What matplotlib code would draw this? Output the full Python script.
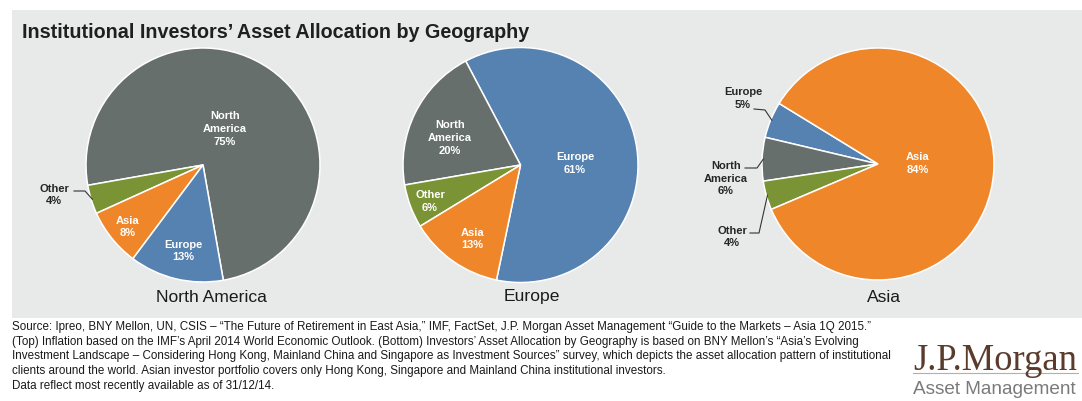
import matplotlib
matplotlib.use("Agg")
import matplotlib.pyplot as plt
from matplotlib.patches import Rectangle
import numpy as np

W, H = 1082, 401

# ---------------- data ----------------
title = "Institutional Investors\u2019 Asset Allocation by Geography"
chart_titles = ["North America", "Europe", "Asia"]

# slices listed counterclockwise for each chart
na_regions = ["North America", "Other", "Asia", "Europe"]
na_values = [75, 4, 8, 13]
eu_regions = ["Europe", "North America", "Other", "Asia"]
eu_values = [61, 20, 6, 13]
as_regions = ["Europe", "North America", "Other", "Asia"]
as_values = [5, 6, 4, 84]

footer_lines = [
    "Source: Ipreo, BNY Mellon, UN, CSIS \u2013 \u201cThe Future of Retirement in East Asia,\u201d IMF, FactSet, J.P. Morgan Asset Management \u201cGuide to the Markets \u2013 Asia 1Q 2015.\u201d",
    "(Top) Inflation based on the IMF\u2019s April 2014 World Economic Outlook. (Bottom) Investors\u2019 Asset Allocation by Geography is based on BNY Mellon\u2019s \u201cAsia\u2019s Evolving",
    "Investment Landscape \u2013 Considering Hong Kong, Mainland China and Singapore as Investment Sources\u201d survey, which depicts the asset allocation pattern of institutional",
    "clients around the world. Asian investor portfolio covers only Hong Kong, Singapore and Mainland China institutional investors.",
    "Data reflect most recently available as of 31/12/14.",
]

# ---------------- style ----------------
colors = {
    "North America": "#676f6d",
    "Europe": "#5582b0",
    "Asia": "#f0862a",
    "Other": "#7a9435",
}
short = {"North America": "North\nAmerica", "Europe": "Europe", "Asia": "Asia", "Other": "Other"}
SANS = ["Liberation Sans", "DejaVu Sans"]
SERIF = ["Liberation Serif", "DejaVu Serif"]

fig = plt.figure(figsize=(W / 100, H / 100), dpi=100)
fig.patch.set_facecolor("white")
ax = fig.add_axes([0, 0, 1, 1])


def Y(y):
    return H - y


ax.add_patch(Rectangle((12, Y(318)), W - 12, 308, facecolor="#e8e9e9", edgecolor="none", zorder=0))

charts = [
    dict(regions=na_regions, values=na_values, center=(203, 165), r=117, start=-80,
         labels={
             "North America": dict(pos=(225, 129), inside=True),
             "Other": dict(pos=(54, 195), inside=False, leader=[(74, 191), (85, 191)]),
             "Asia": dict(pos=(128, 227), inside=True),
             "Europe": dict(pos=(183, 251), inside=True),
         }, sub=(211, 297)),
    dict(regions=eu_regions, values=eu_values, center=(520.5, 165), r=117.5, start=-101.8,
         labels={
             "Europe": dict(pos=(575, 163.5), inside=True),
             "North America": dict(pos=(450, 138), inside=True),
             "Other": dict(pos=(430, 201.5), inside=True),
             "Asia": dict(pos=(472.7, 239), inside=True),
         }, sub=(532, 297)),
    dict(regions=as_regions, values=as_values, center=(878, 164), r=116, start=148.5,
         labels={
             "Europe": dict(pos=(743, 98.5), inside=False, leader=[(754, 109), (765, 110)]),
             "North America": dict(pos=(726, 178.5), inside=False, leader=[(745, 168), (757, 168)]),
             "Other": dict(pos=(732, 237), inside=False, leader=[(750, 233), (759, 233)]),
             "Asia": dict(pos=(918, 163.5), inside=True),
         }, sub=(884, 298)),
]

for ch, name in zip(charts, chart_titles):
    cx, cy = ch["center"]
    wedges, _ = ax.pie(ch["values"], colors=[colors[r] for r in ch["regions"]],
                       center=(cx, Y(cy)), radius=ch["r"], startangle=ch["start"],
                       counterclock=True,
                       wedgeprops=dict(edgecolor="white", linewidth=1.1))
    for w, reg, val in zip(wedges, ch["regions"], ch["values"]):
        spec = ch["labels"][reg]
        lx, ly = spec["pos"]
        txt = f"{short[reg]}\n{val}%"
        col = "white" if spec["inside"] else "#262626"
        ax.text(lx, Y(ly), txt, ha="center", va="center", fontsize=8, fontweight="bold",
                color=col, family=SANS, linespacing=1.35, zorder=5)
        if "leader" in spec:
            mid = np.deg2rad((w.theta1 + w.theta2) / 2)
            ex = cx + 0.99 * ch["r"] * np.cos(mid)
            ey = Y(cy) + 0.99 * ch["r"] * np.sin(mid)
            pts = [(px, Y(py)) for px, py in spec["leader"]] + [(ex, ey)]
            ax.plot([p[0] for p in pts], [p[1] for p in pts], color="#333333", lw=0.8, zorder=4)
    sx, sy = ch["sub"]
    ax.text(sx, Y(sy), name, ha="center", va="center", fontsize=12.6, color="#1a1a1a", family=SANS)

ax.set_xlim(0, W)
ax.set_ylim(0, H)
ax.set_aspect("auto")
ax.axis("off")

renderer = fig.canvas.get_renderer()


def fit(t, target_w):
    bb = t.get_window_extent(renderer=renderer)
    t.set_fontsize(t.get_fontsize() * target_w / bb.width)


t = ax.text(22, Y(32), title, ha="left", va="center", fontsize=13, fontweight="bold",
            color="#1f1f1f", family=SANS)
fit(t, 505)

foot = []
for i, line in enumerate(footer_lines):
    foot.append(ax.text(12, Y(327 + 14.7 * i), line, ha="left", va="center", fontsize=8,
                        color="#1a1a1a", family=SANS))
bb = foot[0].get_window_extent(renderer=renderer)
scale = 861 / bb.width
for tx in foot:
    tx.set_fontsize(tx.get_fontsize() * scale)

jp = ax.text(913, Y(370), "J.P.Morgan", ha="left", va="baseline", fontsize=24,
             color="#5a3b2c", family=SERIF)
fit(jp, 164)
am = ax.text(913, Y(390), "Asset Management", ha="left", va="center", fontsize=12,
             color="#7a7a7a", family=SANS)
fit(am, 164)
ax.plot([913, 1078], [Y(373), Y(373)], color="#b0b0b0", lw=0.8)

fig.savefig("out.png", dpi=100, facecolor="white")
